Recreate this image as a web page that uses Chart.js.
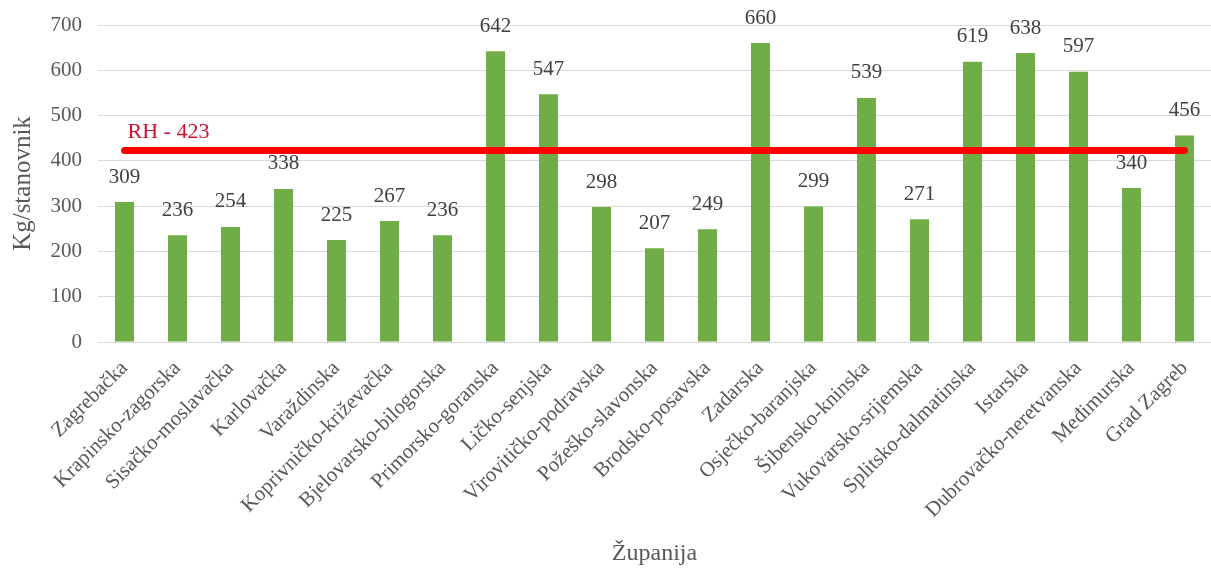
<!DOCTYPE html>
<html>
<head>
<meta charset="utf-8">
<script src="https://cdn.jsdelivr.net/npm/chart.js@4/dist/chart.umd.min.js"></script>
<style>
  html, body { margin: 0; padding: 0; background: #fff; }
  #wrap { width: 1211px; height: 574px; }
</style>
</head>
<body>
<div id="wrap"><canvas id="myChart"></canvas></div>
<script>
const zupanije = [
  "Zagrebačka", "Krapinsko-zagorska", "Sisačko-moslavačka", "Karlovačka",
  "Varaždinska", "Koprivničko-križevačka", "Bjelovarsko-bilogorska",
  "Primorsko-goranska", "Ličko-senjska", "Virovitičko-podravska",
  "Požeško-slavonska", "Brodsko-posavska", "Zadarska", "Osječko-baranjska",
  "Šibensko-kninska", "Vukovarsko-srijemska", "Splitsko-dalmatinska",
  "Istarska", "Dubrovačko-neretvanska", "Međimurska", "Grad Zagreb"
];
const kgPoStanovniku = [309, 236, 254, 338, 225, 267, 236, 642, 547, 298, 207, 249, 660, 299, 539, 271, 619, 638, 597, 340, 456];
const prosjekRH = 423;
const prosjekLabel = "RH - 423";

const serif = "'Liberation Serif', 'Times New Roman', serif";

// labels above bars + the RH label over the red line
const valueLabels = {
  id: "valueLabels",
  afterDatasetsDraw(chart) {
    const ctx = chart.ctx;
    const meta = chart.getDatasetMeta(0);
    ctx.save();
    ctx.font = "21px " + serif;
    ctx.fillStyle = "#404040";
    ctx.textAlign = "center";
    ctx.textBaseline = "middle";
    meta.data.forEach((bar, i) => {
      ctx.fillText(String(kgPoStanovniku[i]), bar.x, bar.y - 25);
    });
    const x0 = chart.scales.x.getPixelForValue(0);
    const yL = chart.scales.y.getPixelForValue(prosjekRH);
    ctx.fillStyle = "#d01030";
    ctx.textAlign = "left";
    ctx.font = "22px " + serif;
    ctx.fillText(prosjekLabel, x0 + 3, yL - 18);
    ctx.restore();
  }
};

const ctx = document.getElementById("myChart").getContext("2d");
const myChart = new Chart(ctx, {
  type: "bar",
  data: {
    labels: zupanije,
    datasets: [
      {
        type: "bar",
        label: "Kg/stanovnik",
        data: kgPoStanovniku,
        backgroundColor: "#70ad47",
        barPercentage: 0.72,
        categoryPercentage: 0.5,
        order: 2
      },
      {
        type: "line",
        label: prosjekLabel,
        data: zupanije.map(() => prosjekRH),
        borderColor: "#ff0000",
        borderWidth: 7,
        borderCapStyle: "round",
        pointRadius: 0,
        fill: false,
        order: 1
      }
    ]
  },
  options: {
    responsive: true,
    maintainAspectRatio: false,
    animation: false,
    layout: { padding: { top: 25, right: -4, left: 0, bottom: 0 } },
    plugins: {
      legend: { display: false },
      tooltip: { enabled: false }
    },
    scales: {
      x: {
        grid: { display: false, drawTicks: false },
        border: { display: true, color: "#d9d9d9", width: 1 },
        ticks: {
          minRotation: 45,
          maxRotation: 45,
          autoSkip: false,
          padding: 14,
          color: "#595959",
          font: { family: serif, size: 21 }
        },
        title: {
          display: true,
          text: "Županija",
          color: "#595959",
          font: { family: serif, size: 24 },
          padding: { top: 0, bottom: 6 }
        },
        afterFit(scale) {
          scale.height = 232;
          scale.paddingRight = -4;
        }
      },
      y: {
        min: 0,
        max: 700,
        ticks: {
          stepSize: 100,
          padding: 16,
          color: "#595959",
          font: { family: serif, size: 21 }
        },
        grid: { color: "#d9d9d9", drawTicks: false },
        border: { display: false },
        title: {
          display: true,
          text: "Kg/stanovnik",
          color: "#595959",
          font: { family: serif, size: 25 },
          padding: { top: 8, bottom: 0 }
        },
        afterFit(scale) {
          scale.width = 98;
          scale.paddingTop = 0;
        }
      }
    }
  },
  plugins: [valueLabels]
});
</script>
</body>
</html>
